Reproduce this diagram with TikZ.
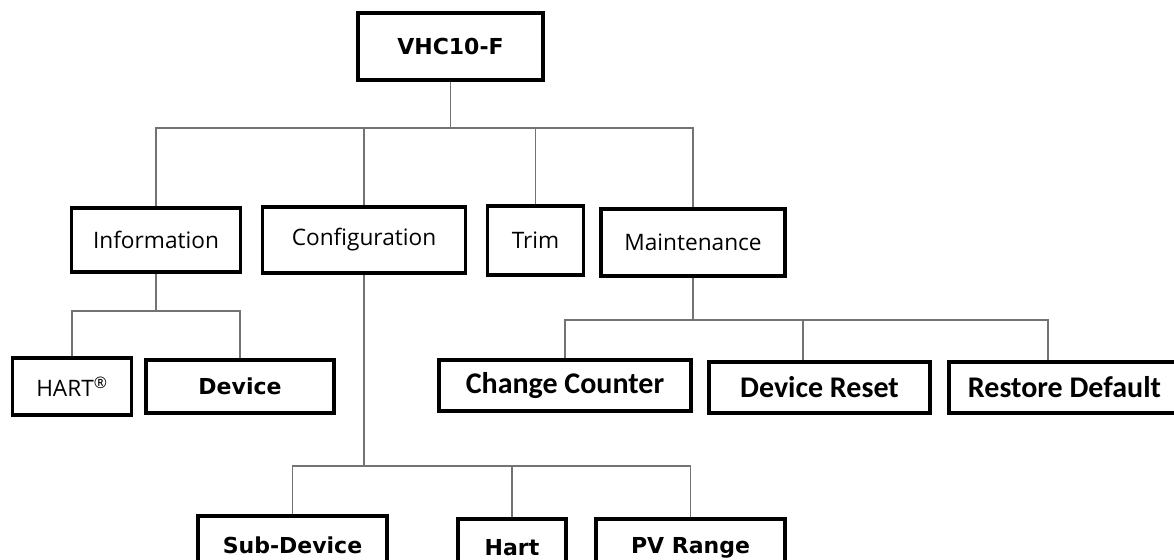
\documentclass[tikz,border=0pt]{standalone}
\usepackage{fontspec}
\newfontfamily\vfont{DejaVu Sans}
\newfontfamily\sfont{Open Sans}
\newfontfamily\cfont{Carlito}
\begin{document}
\begin{tikzpicture}[x=0.75pt,y=-0.75pt,
 box/.style={draw=black,line width=2.3pt,fill=white,inner sep=0pt,align=center},
 vbox/.style={box,font=\vfont\bfseries\fontsize{16.5}{19}\selectfont},
 sbox/.style={box,font=\sfont\fontsize{17}{20}\selectfont},
 cbox/.style={box,font=\cfont\bfseries\fontsize{22.5}{26}\selectfont},
 conn/.style={draw=black!55,line width=1.4pt}]
\useasboundingbox (0,0) rectangle (1174,560);
\clip (0,0) rectangle (1174,560);
\fill[white] (0,0) rectangle (1174,560);
% level 0
\node[vbox,minimum width=185*0.75pt,minimum height=67*0.75pt] (vhc) at (450.5,46.5) {VHC10-F};
% level 1
\node[sbox,minimum width=169*0.75pt,minimum height=64*0.75pt] (info) at (156,240) {Information};
\node[sbox,minimum width=203*0.75pt,minimum height=66*0.75pt] (config) at (364,240) {Configuration};
\node[sbox,minimum width=96*0.75pt,minimum height=69*0.75pt] (trim) at (535.5,240.5) {Trim};
\node[sbox,minimum width=184*0.75pt,minimum height=67*0.75pt] (maint) at (693,242.5) {Maintenance};
% level 2
\node[sbox,minimum width=119*0.75pt,minimum height=57*0.75pt] (hart) at (72,386.5) {HART\textsuperscript{\textregistered}};
\node[vbox,minimum width=188*0.75pt,minimum height=53*0.75pt] (device) at (240,386.5) {Device};
\node[cbox,minimum width=252*0.75pt,minimum height=51*0.75pt] (change) at (565,385.5) {Change Counter};
\node[cbox,minimum width=221*0.75pt,minimum height=51*0.75pt] (reset) at (819.5,387.5) {Device Reset};
\node[cbox,minimum width=231*0.75pt,minimum height=51*0.75pt] (restore) at (1064.5,387.5) {Restore Default};
% level 3
\node[vbox,minimum width=189*0.75pt,minimum height=58*0.75pt] (sub) at (292.5,545) {Sub-Device};
\node[vbox,minimum width=108*0.75pt,minimum height=58*0.75pt] (hart2) at (512,548) {Hart};
\node[vbox,minimum width=189*0.75pt,minimum height=58*0.75pt] (pv) at (690.5,548) {PV Range};
% bus coordinates
\coordinate (tb) at (450.5,128);
\coordinate (ib) at (157,311);
\coordinate (mb) at (693,320);
\coordinate (dx) at (803,320);
\coordinate (rx) at (1048,320);
\coordinate (cb) at (364,466);
% connectors
\draw[conn] (vhc.south) -- (tb);
\draw[conn] (info.north) |- (maint.north |- tb) -- (maint.north);
\draw[conn] (config.north) -- (config.north |- tb);
\draw[conn] (trim.north) -- (trim.north |- tb);
\draw[conn] (info.south) -- (info.south |- ib);
\draw[conn] (hart.north) |- (device.north |- ib) -- (device.north);
\draw[conn] (maint.south) -- (mb);
\draw[conn] (change.north) |- (rx) -- (rx |- restore.north);
\draw[conn] (dx) -- (dx |- reset.north);
\draw[conn] (config.south) -- (cb);
\draw[conn] (sub.north) |- (pv.north |- cb) -- (pv.north);
\draw[conn] (hart2.north) -- (hart2.north |- cb);
\end{tikzpicture}
\end{document}
